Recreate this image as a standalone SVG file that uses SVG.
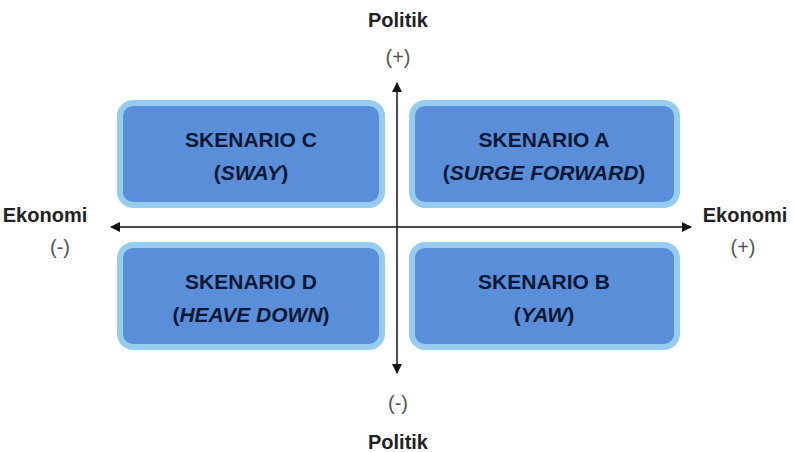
<svg xmlns="http://www.w3.org/2000/svg" width="794" height="452" viewBox="0 0 794 452">
<defs>
<marker id="ah" viewBox="0 0 10 10" refX="9" refY="5" markerWidth="10" markerHeight="10" markerUnits="userSpaceOnUse" orient="auto">
<path d="M0,0 L10,5 L0,10 Z" fill="#111"/>
</marker>
<style>
.box{fill:#5a8ed8;stroke:#96cdee;stroke-width:6}
.t{font-family:"Liberation Sans",Arial,sans-serif;font-weight:bold;font-size:21px;fill:#0c1835;text-anchor:middle}
.s{font-family:"Liberation Sans",Arial,sans-serif;font-weight:bold;font-size:21px;fill:#0c1835;text-anchor:middle}
.i{font-style:italic}
.ax{font-family:"Liberation Sans",Arial,sans-serif;font-weight:bold;font-size:20px;fill:#222;text-anchor:middle}
.sg{font-family:"Liberation Sans",Arial,sans-serif;font-size:20px;fill:#555;text-anchor:middle}
.line{stroke:#111;stroke-width:1.5;fill:none}
</style>
</defs>
<rect width="794" height="452" fill="#fff"/>
<g id="connectors">
<line class="line" x1="397" y1="227" x2="397" y2="83" marker-end="url(#ah)"/>
<line class="line" x1="397" y1="227" x2="397" y2="373" marker-end="url(#ah)"/>
<line class="line" x1="397" y1="227" x2="111" y2="227" marker-end="url(#ah)"/>
<line class="line" x1="397" y1="227" x2="691" y2="227" marker-end="url(#ah)"/>
</g>
<g id="nodeC">
<rect class="box" x="120" y="103" width="262" height="102" rx="13"/>
<text class="t" x="251" y="147">SKENARIO C</text>
<text class="s" x="251" y="180">(<tspan class="i">SWAY</tspan>)</text>
</g>
<g id="nodeA">
<rect class="box" x="412" y="103" width="265" height="102" rx="13"/>
<text class="t" x="544" y="147">SKENARIO A</text>
<text class="s" x="544" y="180">(<tspan class="i">SURGE FORWARD</tspan>)</text>
</g>
<g id="nodeD">
<rect class="box" x="120" y="245" width="262" height="102" rx="13"/>
<text class="t" x="251" y="289">SKENARIO D</text>
<text class="s" x="251" y="322">(<tspan class="i">HEAVE DOWN</tspan>)</text>
</g>
<g id="nodeB">
<rect class="box" x="412" y="245" width="265" height="102" rx="13"/>
<text class="t" x="544" y="289">SKENARIO B</text>
<text class="s" x="544" y="322">(<tspan class="i">YAW</tspan>)</text>
</g>
<g id="politik-plus">
<text class="ax" x="398" y="27">Politik</text>
<text class="sg" x="398" y="64">(+)</text>
</g>
<g id="politik-minus">
<text class="sg" x="398" y="410">(-)</text>
<text class="ax" x="398" y="449">Politik</text>
</g>
<g id="ekonomi-minus">
<text class="ax" x="45" y="222">Ekonomi</text>
<text class="sg" x="60" y="254">(-)</text>
</g>
<g id="ekonomi-plus">
<text class="ax" x="745" y="222">Ekonomi</text>
<text class="sg" x="743" y="254">(+)</text>
</g>
</svg>
